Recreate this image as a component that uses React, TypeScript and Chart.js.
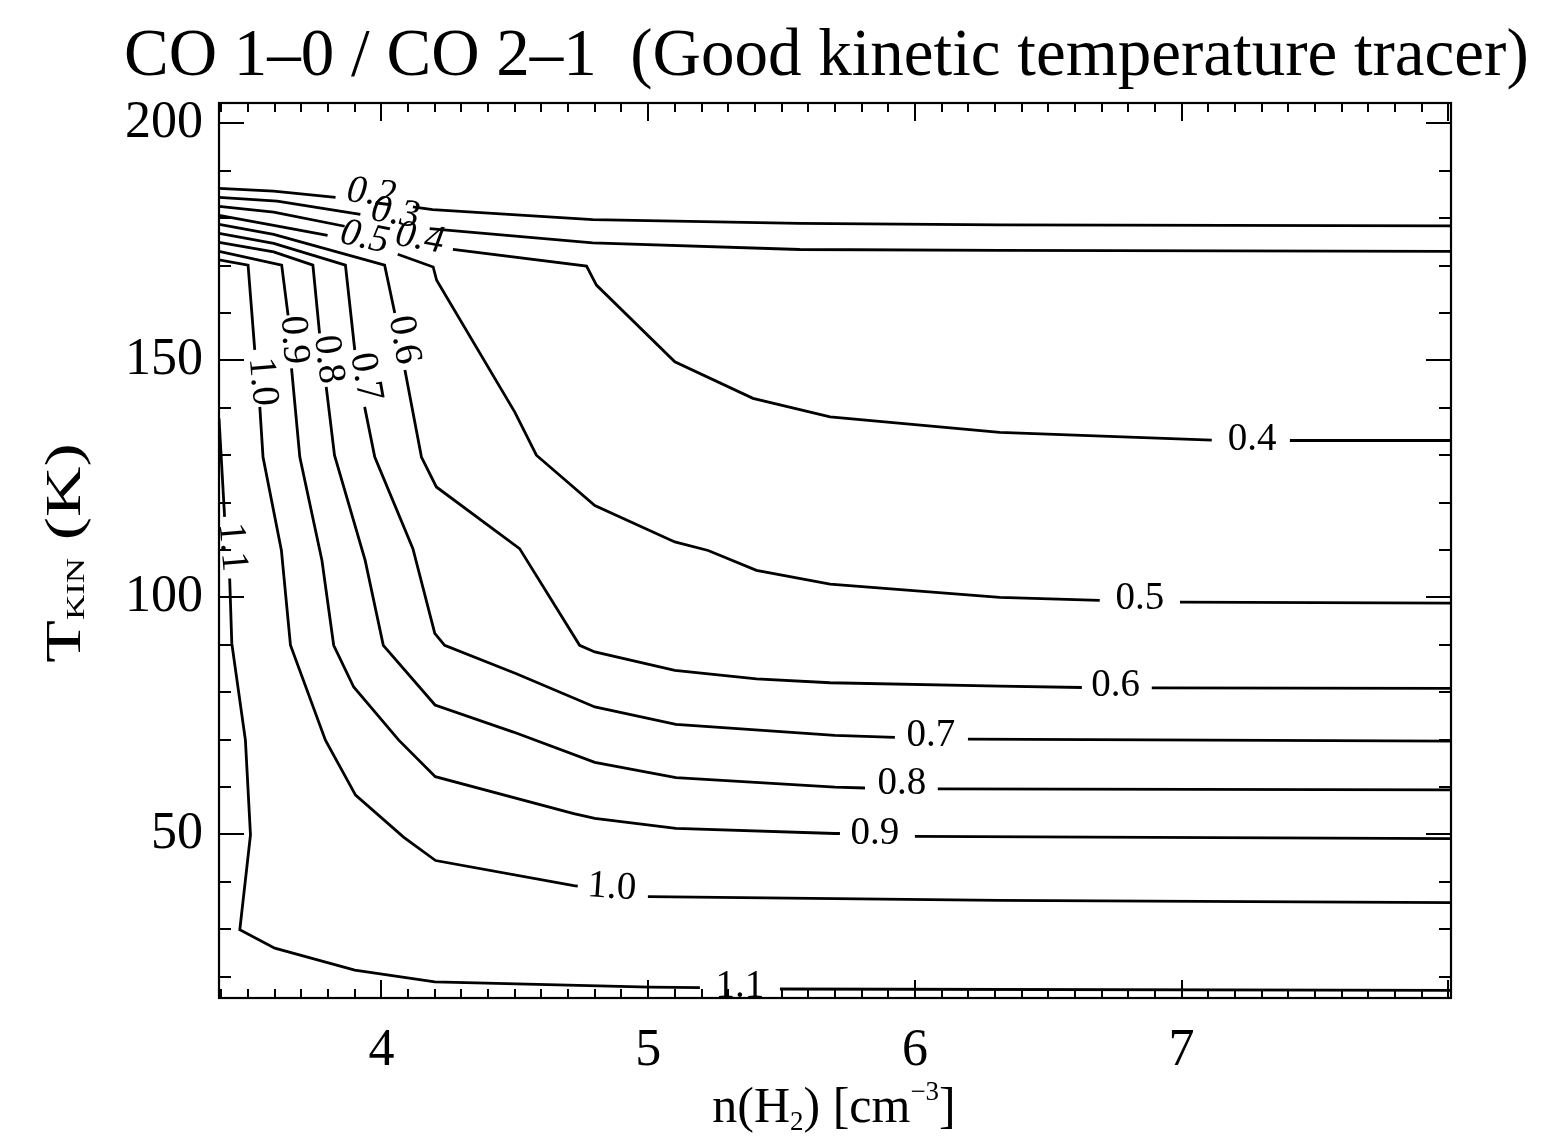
import React, { useEffect, useRef } from 'react';
import { Chart, registerables } from 'chart.js';

Chart.register(...registerables);

const SERIF = '"Liberation Serif", "Times New Roman", Times, serif';

// Axis ranges and ticks
const X_MIN = 3.391;
const X_MAX = 8.01;
const Y_MIN = 15.5;
const Y_MAX = 204.3;
const X_TICKS = [4, 5, 6, 7];
const Y_TICKS = [50, 100, 150, 200];

const TITLE = 'CO 1\u20130 / CO 2\u20131  (Good kinetic temperature tracer)';

// Contour levels: log n(H2) (x) and T_kin (y); null marks a gap for a label
const n02 = [3.391, 3.596, 3.828, null, 4.118, 4.192, 4.792, 5.568, 6.318, 8.01];
const t02 = [186.3, 185.7, 184.4, null, 182.4, 181.8, 179.7, 178.9, 178.6, 178.4];

const n03 = [3.391, 3.609, 3.921, null, 4.181, 4.792, 5.568, 6.318, 8.01];
const t03 = [184.4, 183.6, 180.8, null, 177.8, 174.8, 173.4, 173.2, 173.0];

const n04 = [3.391, 3.596, 3.862, null, 4.268, 4.769, 4.806, 5.1, 5.393, 5.682, 6.318, 7.113, null, 7.406, 8.01];
const t04 = [182.5, 181.3, 178.3, null, 173.4, 169.9, 165.9, 149.7, 142.0, 138.1, 134.8, 133.2, null, 133.1, 133.1];

const n05 = [3.391, 3.596, 3.798, null, 4.061, 4.194, 4.207, 4.5, 4.581, 4.8, 5.1, 5.225, 5.406, 5.682, 6.318, 6.693, null, 6.994, 8.01];
const t05 = [180.6, 178.5, 176.4, null, 172.4, 169.7, 166.9, 139.1, 130.0, 119.4, 111.7, 109.9, 105.7, 102.8, 100.0, 99.4, null, 99.0, 98.8];

const n06 = [3.391, 3.596, 4.012, 4.05, null, 4.088, 4.15, 4.206, 4.518, 4.743, 4.8, 5.1, 5.406, 5.682, 6.318, 6.626, null, 6.888, 8.01];
const t06 = [178.7, 176.6, 170.1, 160.0, null, 148.0, 129.6, 123.3, 110.3, 89.9, 88.5, 84.6, 82.8, 82.0, 81.3, 81.0, null, 80.9, 80.8];

const n07 = [3.391, 3.596, 3.865, 3.9, null, 3.937, 3.975, 4.118, 4.2, 4.237, 4.506, 4.8, 5.104, 5.7, 5.925, null, 6.199, 8.01];
const t07 = [176.8, 174.7, 170.1, 152.2, null, 140.2, 129.6, 110.3, 92.4, 89.9, 83.9, 76.9, 73.2, 70.9, 70.5, null, 70.1, 69.7];

const n08 = [3.391, 3.596, 3.743, 3.768, null, 3.793, 3.824, 3.939, 4.007, 4.201, 4.495, 4.8, 5.104, 5.7, 5.813, null, 6.086, 8.01];
const t08 = [174.9, 172.9, 170.1, 155.7, null, 144.4, 130.0, 107.8, 89.9, 77.3, 71.6, 65.2, 62.0, 60.0, 59.8, null, 59.6, 59.4];

const n09 = [3.391, 3.626, 3.65, null, 3.663, 3.694, 3.777, 3.821, 3.896, 4.065, 4.202, 4.721, 4.8, 5.104, 5.7, 5.719, null, 6.0, 8.01];
const t09 = [173.0, 170.1, 159.5, null, 148.3, 129.6, 107.8, 89.9, 81.1, 69.9, 62.2, 54.4, 53.4, 51.3, 50.2, 50.2, null, 49.6, 49.1];

const n10 = [3.391, 3.5, 3.525, null, 3.544, 3.556, 3.625, 3.659, 3.79, 3.903, 4.084, 4.203, 4.721, 4.736, null, 4.999, 6.318, 8.01];
const t10 = [171.2, 170.1, 152.2, null, 140.2, 129.6, 109.9, 89.9, 69.9, 58.3, 49.4, 44.5, 39.2, 39.1, null, 36.9, 36.1, 35.6];

const n11 = [3.391, 3.412, null, 3.431, 3.439, 3.49, 3.509, 3.469, 3.6, 3.9, 4.2, 5.006, 5.194, null, 5.494, 8.01];
const t11 = [137.8, 117.0, null, 104.0, 90.3, 69.9, 49.9, 29.9, 26.0, 21.4, 18.9, 17.8, 17.7, null, 17.4, 17.1];

const CONTOURS_N = [n02, n03, n04, n05, n06, n07, n08, n09, n10, n11];
const CONTOURS_T = [t02, t03, t04, t05, t06, t07, t08, t09, t10, t11];

// Contour labels
const labelText = ['0.2', '0.3', '0.5', '0.4', '1.0', '0.9', '0.8', '0.7', '0.6', '1.1', '0.4', '0.5', '0.6', '0.7', '0.8', '0.9', '1.0', '1.1'];
const labelN = [3.962, 4.052, 3.937, 4.144, 3.553, 3.671, 3.8, 3.94, 4.084, 3.439, 7.264, 6.844, 6.753, 6.06, 5.951, 5.85, 4.864, 5.344];
const labelT = [185.2, 181.0, 175.9, 175.7, 145.5, 154.3, 150.2, 146.5, 154.3, 110.6, 133.2, 99.8, 81.4, 70.9, 60.8, 50.2, 38.8, 17.9];
const labelAngle = [7, 9, 12, 10, 85, 86, 83, 80, 80, 85, 0, 0, 0, 0, 0, 0, 4, 0];
const labelItalic = [true, true, true, true, false, false, false, false, false, false, false, false, false, false, false, false, false, false];

function buildDatasets() {
  const sets: any[] = [];
  CONTOURS_N.forEach((ns, ci) => {
    const ts = CONTOURS_T[ci];
    let seg: { x: number; y: number }[] = [];
    const flush = () => {
      if (seg.length > 1) {
        sets.push({
          data: seg,
          showLine: true,
          borderColor: '#000',
          borderWidth: 2.8,
          pointRadius: 0,
          pointHoverRadius: 0,
          fill: false,
          tension: 0,
          borderJoinStyle: 'miter',
        });
      }
      seg = [];
    };
    ns.forEach((n, i) => {
      const t = ts[i];
      if (n === null || t === null) flush();
      else seg.push({ x: n as number, y: t as number });
    });
    flush();
  });
  return sets;
}

type Run = [string, number, number];

function drawRuns(ctx: CanvasRenderingContext2D, runs: Run[], cx: number, baseY: number) {
  let total = 0;
  const widths = runs.map(([s, size]) => {
    ctx.font = `${size}px ${SERIF}`;
    const w = ctx.measureText(s).width;
    total += w;
    return w;
  });
  let x = cx - total / 2;
  ctx.textAlign = 'left';
  ctx.textBaseline = 'alphabetic';
  runs.forEach(([s, size, dy], i) => {
    ctx.font = `${size}px ${SERIF}`;
    ctx.fillText(s, x, baseY + dy);
    x += widths[i];
  });
}

const decorPlugin = {
  id: 'decor',
  afterDraw(chart: any) {
    const { ctx, chartArea } = chart;
    const xs = chart.scales.x;
    const ys = chart.scales.y;
    const { left, right, top, bottom } = chartArea;
    ctx.save();
    ctx.strokeStyle = '#000';
    ctx.fillStyle = '#000';
    ctx.lineWidth = 2.2;
    ctx.strokeRect(left, top, right - left, bottom - top);

    // x ticks (every 0.1, major at integers)
    ctx.lineWidth = 2;
    ctx.beginPath();
    for (let k = 34; k <= 80; k++) {
      const v = k / 10;
      const px = Math.round(xs.getPixelForValue(v));
      const len = k % 10 === 0 ? 18 : 9;
      ctx.moveTo(px, bottom);
      ctx.lineTo(px, bottom - len);
      ctx.moveTo(px, top);
      ctx.lineTo(px, top + len);
    }
    // y ticks (every 10, major every 50)
    for (let v = 20; v <= 200; v += 10) {
      const py = Math.round(ys.getPixelForValue(v));
      const len = v % 50 === 0 ? 25 : 12;
      ctx.moveTo(left, py);
      ctx.lineTo(left + len, py);
      ctx.moveTo(right, py);
      ctx.lineTo(right - len, py);
    }
    ctx.stroke();

    // contour labels
    labelText.forEach((txt, i) => {
      const px = xs.getPixelForValue(labelN[i]);
      const py = ys.getPixelForValue(labelT[i]);
      ctx.save();
      ctx.translate(px, py);
      ctx.rotate((labelAngle[i] * Math.PI) / 180);
      ctx.font = `${labelItalic[i] ? 'italic ' : ''}39px ${SERIF}`;
      ctx.textAlign = 'center';
      ctx.textBaseline = 'middle';
      ctx.fillText(txt, 0, 0);
      ctx.restore();
    });

    // title
    ctx.font = `67px ${SERIF}`;
    ctx.textAlign = 'left';
    ctx.textBaseline = 'alphabetic';
    ctx.fillText(TITLE, 124, 75);

    // x axis title
    drawRuns(ctx, [['n(H', 50, 0], ['2', 27, 8], [') [cm', 50, 0], ['\u22123', 27, -22], [']', 50, 0]], 834, 1122);

    // y axis title (rotated, stretched along its direction)
    ctx.save();
    ctx.translate(80, 553);
    ctx.rotate(-Math.PI / 2);
    ctx.scale(1.4, 1);
    drawRuns(ctx, [['T', 50, 0], ['KIN', 25, 4], [' (K)', 50, 0]], 0, 0);
    ctx.restore();

    ctx.restore();
  },
};

export default function App() {
  const ref = useRef<HTMLCanvasElement>(null);
  useEffect(() => {
    const canvas = ref.current;
    if (!canvas) return;
    const chart = new Chart(canvas, {
      type: 'scatter',
      data: { datasets: buildDatasets() },
      options: {
        responsive: false,
        animation: false,
        devicePixelRatio: 1,
        layout: { padding: { left: 0, top: 103, right: 94, bottom: 0 } },
        plugins: {
          legend: { display: false },
          tooltip: { enabled: false },
          title: { display: false },
        },
        scales: {
          x: {
            type: 'linear',
            min: X_MIN,
            max: X_MAX,
            afterFit: (s: any) => {
              s.height = 145;
            },
            afterBuildTicks: (s: any) => {
              s.ticks = X_TICKS.map((v) => ({ value: v }));
            },
            grid: { display: false, drawTicks: false },
            border: { display: false },
            ticks: {
              color: '#000',
              font: { family: SERIF, size: 52 },
              padding: 22,
              maxRotation: 0,
              autoSkip: false,
              callback: (v: any) => String(v),
            },
          },
          y: {
            type: 'linear',
            min: Y_MIN,
            max: Y_MAX,
            afterFit: (s: any) => {
              s.width = 219;
            },
            afterBuildTicks: (s: any) => {
              s.ticks = Y_TICKS.map((v) => ({ value: v }));
            },
            grid: { display: false, drawTicks: false },
            border: { display: false },
            ticks: {
              color: '#000',
              font: { family: SERIF, size: 52 },
              padding: 16,
              autoSkip: false,
              callback: (v: any) => String(v),
            },
          },
        },
      },
      plugins: [decorPlugin],
    } as any);
    return () => chart.destroy();
  }, []);
  return (
    <canvas
      ref={ref}
      width={1545}
      height={1143}
      style={{ position: 'fixed', left: 0, top: 0, width: 1545, height: 1143, background: '#fff' }}
    />
  );
}
